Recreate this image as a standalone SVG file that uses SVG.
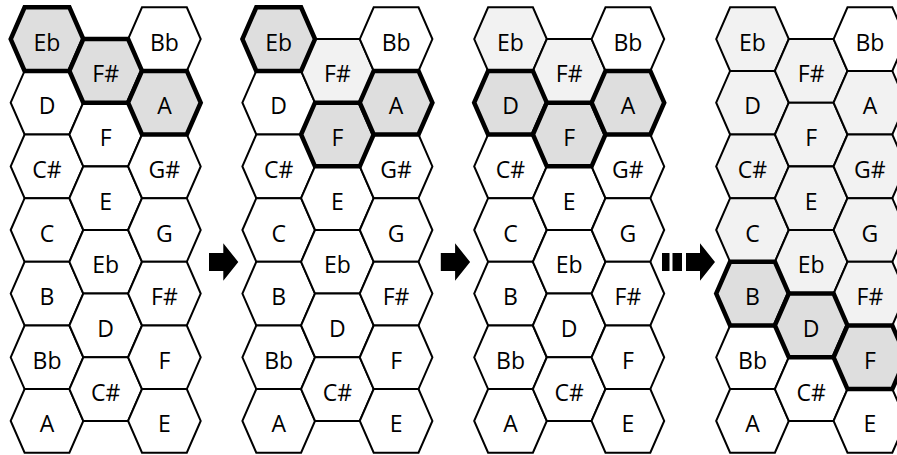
<svg xmlns="http://www.w3.org/2000/svg" xmlns:xlink="http://www.w3.org/1999/xlink" width="897" height="455" viewBox="0 0 897 455">
  <style>
    .hex use { fill: #ffffff; stroke: #000000; stroke-width: 2; stroke-linejoin: miter; }
    .seen use { fill: #f2f2f2; }
    .on use { fill: #dedede; stroke-width: 4.5; }
    .hex text { font-family: "Open Sans", Lato, sans-serif; font-size: 23px; text-anchor: middle; fill: #000000; }
    .arrow { fill: #000000; stroke: none; }
  </style>
  <defs>
    <!-- flat-topped hexagon centred on the origin -->
    <polygon id="hex" points="-36.3,0 -22.4,-31.8 22.4,-31.8 36.3,0 22.4,31.8 -22.4,31.8"/>
  </defs>

  <rect width="897" height="455" fill="#ffffff"/>

  <!-- Grid 1 -->
  <g id="grid1">
    <g id="g1-D" class="hex" transform="translate(47,102.7)"><use xlink:href="#hex"/><text y="11.5">D</text></g>
    <g id="g1-Cs" class="hex" transform="translate(47,166.4)"><use xlink:href="#hex"/><text y="11.5">C#</text></g>
    <g id="g1-C" class="hex" transform="translate(47,230)"><use xlink:href="#hex"/><text y="11.5">C</text></g>
    <g id="g1-B" class="hex" transform="translate(47,293.6)"><use xlink:href="#hex"/><text y="11.5">B</text></g>
    <g id="g1-Bb" class="hex" transform="translate(47,357.3)"><use xlink:href="#hex"/><text y="11.5">Bb</text></g>
    <g id="g1-A" class="hex" transform="translate(47,420.9)"><use xlink:href="#hex"/><text y="11.5">A</text></g>
    <g id="g1-F" class="hex" transform="translate(105.7,134.5)"><use xlink:href="#hex"/><text y="11.5">F</text></g>
    <g id="g1-E" class="hex" transform="translate(105.7,198.2)"><use xlink:href="#hex"/><text y="11.5">E</text></g>
    <g id="g1-Eb2" class="hex" transform="translate(105.7,261.8)"><use xlink:href="#hex"/><text y="11.5">Eb</text></g>
    <g id="g1-D2" class="hex" transform="translate(105.7,325.4)"><use xlink:href="#hex"/><text y="11.5">D</text></g>
    <g id="g1-Cs2" class="hex" transform="translate(105.7,389.1)"><use xlink:href="#hex"/><text y="11.5">C#</text></g>
    <g id="g1-Bb2" class="hex" transform="translate(164.4,39.1)"><use xlink:href="#hex"/><text y="11.5">Bb</text></g>
    <g id="g1-Gs" class="hex" transform="translate(164.4,166.4)"><use xlink:href="#hex"/><text y="11.5">G#</text></g>
    <g id="g1-G" class="hex" transform="translate(164.4,230)"><use xlink:href="#hex"/><text y="11.5">G</text></g>
    <g id="g1-Fs2" class="hex" transform="translate(164.4,293.6)"><use xlink:href="#hex"/><text y="11.5">F#</text></g>
    <g id="g1-F2" class="hex" transform="translate(164.4,357.3)"><use xlink:href="#hex"/><text y="11.5">F</text></g>
    <g id="g1-E2" class="hex" transform="translate(164.4,420.9)"><use xlink:href="#hex"/><text y="11.5">E</text></g>
    <g id="g1-Eb" class="hex on" transform="translate(47,39.1)"><use xlink:href="#hex"/><text y="11.5">Eb</text></g>
    <g id="g1-Fs" class="hex on" transform="translate(105.7,70.9)"><use xlink:href="#hex"/><text y="11.5">F#</text></g>
    <g id="g1-A2" class="hex on" transform="translate(164.4,102.7)"><use xlink:href="#hex"/><text y="11.5">A</text></g>
  </g>

  <!-- Grid 2 -->
  <g id="grid2" transform="translate(231.7,0)">
    <g id="g2-D" class="hex" transform="translate(47,102.7)"><use xlink:href="#hex"/><text y="11.5">D</text></g>
    <g id="g2-Cs" class="hex" transform="translate(47,166.4)"><use xlink:href="#hex"/><text y="11.5">C#</text></g>
    <g id="g2-C" class="hex" transform="translate(47,230)"><use xlink:href="#hex"/><text y="11.5">C</text></g>
    <g id="g2-B" class="hex" transform="translate(47,293.6)"><use xlink:href="#hex"/><text y="11.5">B</text></g>
    <g id="g2-Bb" class="hex" transform="translate(47,357.3)"><use xlink:href="#hex"/><text y="11.5">Bb</text></g>
    <g id="g2-A" class="hex" transform="translate(47,420.9)"><use xlink:href="#hex"/><text y="11.5">A</text></g>
    <g id="g2-Fs" class="hex seen" transform="translate(105.7,70.9)"><use xlink:href="#hex"/><text y="11.5">F#</text></g>
    <g id="g2-E" class="hex" transform="translate(105.7,198.2)"><use xlink:href="#hex"/><text y="11.5">E</text></g>
    <g id="g2-Eb2" class="hex" transform="translate(105.7,261.8)"><use xlink:href="#hex"/><text y="11.5">Eb</text></g>
    <g id="g2-D2" class="hex" transform="translate(105.7,325.4)"><use xlink:href="#hex"/><text y="11.5">D</text></g>
    <g id="g2-Cs2" class="hex" transform="translate(105.7,389.1)"><use xlink:href="#hex"/><text y="11.5">C#</text></g>
    <g id="g2-Bb2" class="hex" transform="translate(164.4,39.1)"><use xlink:href="#hex"/><text y="11.5">Bb</text></g>
    <g id="g2-Gs" class="hex" transform="translate(164.4,166.4)"><use xlink:href="#hex"/><text y="11.5">G#</text></g>
    <g id="g2-G" class="hex" transform="translate(164.4,230)"><use xlink:href="#hex"/><text y="11.5">G</text></g>
    <g id="g2-Fs2" class="hex" transform="translate(164.4,293.6)"><use xlink:href="#hex"/><text y="11.5">F#</text></g>
    <g id="g2-F2" class="hex" transform="translate(164.4,357.3)"><use xlink:href="#hex"/><text y="11.5">F</text></g>
    <g id="g2-E2" class="hex" transform="translate(164.4,420.9)"><use xlink:href="#hex"/><text y="11.5">E</text></g>
    <g id="g2-Eb" class="hex on" transform="translate(47,39.1)"><use xlink:href="#hex"/><text y="11.5">Eb</text></g>
    <g id="g2-F" class="hex on" transform="translate(105.7,134.5)"><use xlink:href="#hex"/><text y="11.5">F</text></g>
    <g id="g2-A2" class="hex on" transform="translate(164.4,102.7)"><use xlink:href="#hex"/><text y="11.5">A</text></g>
  </g>

  <!-- Grid 3 -->
  <g id="grid3" transform="translate(463.5,0)">
    <g id="g3-Eb" class="hex seen" transform="translate(47,39.1)"><use xlink:href="#hex"/><text y="11.5">Eb</text></g>
    <g id="g3-Cs" class="hex" transform="translate(47,166.4)"><use xlink:href="#hex"/><text y="11.5">C#</text></g>
    <g id="g3-C" class="hex" transform="translate(47,230)"><use xlink:href="#hex"/><text y="11.5">C</text></g>
    <g id="g3-B" class="hex" transform="translate(47,293.6)"><use xlink:href="#hex"/><text y="11.5">B</text></g>
    <g id="g3-Bb" class="hex" transform="translate(47,357.3)"><use xlink:href="#hex"/><text y="11.5">Bb</text></g>
    <g id="g3-A" class="hex" transform="translate(47,420.9)"><use xlink:href="#hex"/><text y="11.5">A</text></g>
    <g id="g3-Fs" class="hex seen" transform="translate(105.7,70.9)"><use xlink:href="#hex"/><text y="11.5">F#</text></g>
    <g id="g3-E" class="hex" transform="translate(105.7,198.2)"><use xlink:href="#hex"/><text y="11.5">E</text></g>
    <g id="g3-Eb2" class="hex" transform="translate(105.7,261.8)"><use xlink:href="#hex"/><text y="11.5">Eb</text></g>
    <g id="g3-D2" class="hex" transform="translate(105.7,325.4)"><use xlink:href="#hex"/><text y="11.5">D</text></g>
    <g id="g3-Cs2" class="hex" transform="translate(105.7,389.1)"><use xlink:href="#hex"/><text y="11.5">C#</text></g>
    <g id="g3-Bb2" class="hex" transform="translate(164.4,39.1)"><use xlink:href="#hex"/><text y="11.5">Bb</text></g>
    <g id="g3-Gs" class="hex" transform="translate(164.4,166.4)"><use xlink:href="#hex"/><text y="11.5">G#</text></g>
    <g id="g3-G" class="hex" transform="translate(164.4,230)"><use xlink:href="#hex"/><text y="11.5">G</text></g>
    <g id="g3-Fs2" class="hex" transform="translate(164.4,293.6)"><use xlink:href="#hex"/><text y="11.5">F#</text></g>
    <g id="g3-F2" class="hex" transform="translate(164.4,357.3)"><use xlink:href="#hex"/><text y="11.5">F</text></g>
    <g id="g3-E2" class="hex" transform="translate(164.4,420.9)"><use xlink:href="#hex"/><text y="11.5">E</text></g>
    <g id="g3-D" class="hex on" transform="translate(47,102.7)"><use xlink:href="#hex"/><text y="11.5">D</text></g>
    <g id="g3-F" class="hex on" transform="translate(105.7,134.5)"><use xlink:href="#hex"/><text y="11.5">F</text></g>
    <g id="g3-A2" class="hex on" transform="translate(164.4,102.7)"><use xlink:href="#hex"/><text y="11.5">A</text></g>
  </g>

  <!-- Grid 4 -->
  <g id="grid4" transform="translate(705.5,0)">
    <g id="g4-Eb" class="hex seen" transform="translate(47,39.1)"><use xlink:href="#hex"/><text y="11.5">Eb</text></g>
    <g id="g4-D" class="hex seen" transform="translate(47,102.7)"><use xlink:href="#hex"/><text y="11.5">D</text></g>
    <g id="g4-Cs" class="hex seen" transform="translate(47,166.4)"><use xlink:href="#hex"/><text y="11.5">C#</text></g>
    <g id="g4-C" class="hex seen" transform="translate(47,230)"><use xlink:href="#hex"/><text y="11.5">C</text></g>
    <g id="g4-Bb" class="hex" transform="translate(47,357.3)"><use xlink:href="#hex"/><text y="11.5">Bb</text></g>
    <g id="g4-A" class="hex" transform="translate(47,420.9)"><use xlink:href="#hex"/><text y="11.5">A</text></g>
    <g id="g4-Fs" class="hex seen" transform="translate(105.7,70.9)"><use xlink:href="#hex"/><text y="11.5">F#</text></g>
    <g id="g4-F" class="hex seen" transform="translate(105.7,134.5)"><use xlink:href="#hex"/><text y="11.5">F</text></g>
    <g id="g4-E" class="hex seen" transform="translate(105.7,198.2)"><use xlink:href="#hex"/><text y="11.5">E</text></g>
    <g id="g4-Eb2" class="hex seen" transform="translate(105.7,261.8)"><use xlink:href="#hex"/><text y="11.5">Eb</text></g>
    <g id="g4-Cs2" class="hex" transform="translate(105.7,389.1)"><use xlink:href="#hex"/><text y="11.5">C#</text></g>
    <g id="g4-Bb2" class="hex" transform="translate(164.4,39.1)"><use xlink:href="#hex"/><text y="11.5">Bb</text></g>
    <g id="g4-A2" class="hex seen" transform="translate(164.4,102.7)"><use xlink:href="#hex"/><text y="11.5">A</text></g>
    <g id="g4-Gs" class="hex seen" transform="translate(164.4,166.4)"><use xlink:href="#hex"/><text y="11.5">G#</text></g>
    <g id="g4-G" class="hex seen" transform="translate(164.4,230)"><use xlink:href="#hex"/><text y="11.5">G</text></g>
    <g id="g4-Fs2" class="hex seen" transform="translate(164.4,293.6)"><use xlink:href="#hex"/><text y="11.5">F#</text></g>
    <g id="g4-E2" class="hex" transform="translate(164.4,420.9)"><use xlink:href="#hex"/><text y="11.5">E</text></g>
    <g id="g4-B" class="hex on" transform="translate(47,293.6)"><use xlink:href="#hex"/><text y="11.5">B</text></g>
    <g id="g4-D2" class="hex on" transform="translate(105.7,325.4)"><use xlink:href="#hex"/><text y="11.5">D</text></g>
    <g id="g4-F2" class="hex on" transform="translate(164.4,357.3)"><use xlink:href="#hex"/><text y="11.5">F</text></g>
  </g>

  <!-- Step arrows between grids -->
  <g id="arrows">
    <polygon class="arrow" points="209,253 223.3,253 223.3,243.3 238.3,262 223.3,280.7 223.3,271 209,271"/>
    <polygon class="arrow" points="440.8,253 455.1,253 455.1,243.3 470.1,262 455.1,280.7 455.1,271 440.8,271"/>
    <rect class="arrow" x="662" y="253" width="7.5" height="18"/>
    <rect class="arrow" x="672.5" y="253" width="9.5" height="18"/>
    <polygon class="arrow" points="686,253 700,253 700,243.3 715,262 700,280.7 700,271 686,271"/>
  </g>
</svg>
